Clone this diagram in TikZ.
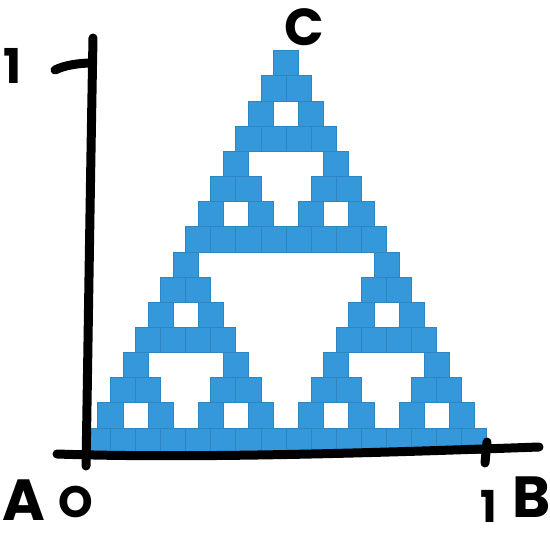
\documentclass[tikz,border=0pt]{standalone}
\usepackage{fontspec}
\newfontfamily\handfont{Poppins}
\usepackage{tikz}
\usetikzlibrary{positioning}

\definecolor{cellblue}{HTML}{3498DB}
\definecolor{celledge}{HTML}{2E86C1}

\begin{document}
\begin{tikzpicture}[
  x=1pt, y=-1pt,
  cell/.style={fill=cellblue, draw=celledge, line width=0.9pt},
  axis/.style={line width=9pt, line cap=round, draw=black},
  hand/.style={inner sep=0pt, font=\handfont\bfseries}
]
  \useasboundingbox (0,0) rectangle (550,535);
  \def\cw{25.1}
  \def\ch{25.16}

  % tail of the C
  \fill (294,56) circle (5);

  % Sierpinski rows: cell k of row r is filled when C(r,k) is odd
  \foreach \r in {0,...,15}{
    \foreach \k in {0,...,\r}{
      \pgfmathtruncatemacro{\odd}{(1-mod(\k,2)*(1-mod(\r,2)))*(1-mod(floor(\k/2),2)*(1-mod(floor(\r/2),2)))*(1-mod(floor(\k/4),2)*(1-mod(floor(\r/4),2)))*(1-mod(floor(\k/8),2)*(1-mod(floor(\r/8),2)))}
      \ifnum\odd=1
        \draw[cell] ({85.3+(15-\r)*\cw/2+\k*\cw},{50.7+\r*\ch}) rectangle ++(\cw,\ch);
      \fi
    }
  }

  % axes
  \coordinate (ytop) at (93,38);
  \coordinate (ybot) at (86,466);
  \coordinate (xleft) at (57,454);
  \coordinate (xright) at (539,447);
  \coordinate (ytickl) at (55,70);
  \coordinate (ytickr) at (92,63);
  \coordinate (xtickt) at (487,442);
  \coordinate (xtickb) at (485,463);

  \draw[axis] (ytop) .. controls (90,200) and (88,350) .. (ybot);
  \draw[axis] (xleft) .. controls (200,459) and (400,452) .. (xright);
  \draw[axis] (ytickl) .. controls (65,65) and (80,63) .. (ytickr);
  \draw[axis] (xtickt) -- (xtickb);

  % labels
  \node[hand, font=\handfont\bfseries\fontsize{48}{48}\selectfont] (one1) at (13,66) {1};
  \node[hand, font=\handfont\bfseries\fontsize{52}{52}\selectfont] (lblC) at (304,27) {C};
  \node[hand, font=\handfont\bfseries\fontsize{58}{58}\selectfont] (lblA) at (24,500) {A};
  \node[hand, font=\handfont\bfseries\fontsize{44}{44}\selectfont] (lblO) at (76,502) {O};
  \node[hand, font=\handfont\bfseries\fontsize{44}{44}\selectfont] (one2) at (489,506) {1};
  \node[hand, font=\handfont\bfseries\fontsize{58}{58}\selectfont] (lblB) at (532,497) {B};
\end{tikzpicture}
\end{document}
